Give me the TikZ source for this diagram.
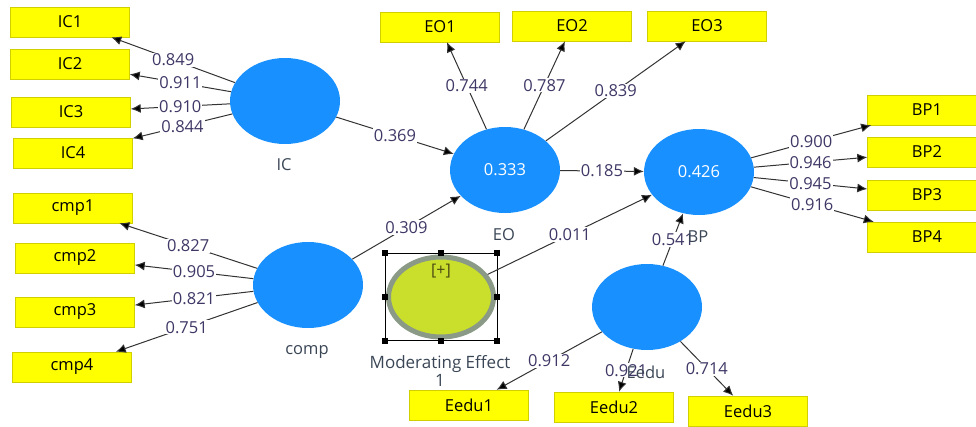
\documentclass[tikz,border=0pt]{standalone}
\usepackage{fontspec}
\setmainfont{Open Sans}
\usepackage{tikz}
\usetikzlibrary{arrows.meta,positioning,shapes.geometric}
\definecolor{latblue}{HTML}{1890FF}
\definecolor{indyellow}{HTML}{FFFF00}
\definecolor{indborder}{HTML}{D0D000}
\definecolor{modgreen}{HTML}{C9DF2C}
\definecolor{modgray}{HTML}{8A9A86}
\definecolor{coefcol}{HTML}{3F3866}
\definecolor{namecol}{HTML}{3A4656}
\definecolor{plusdark}{HTML}{4A4A10}
\tikzset{
  indic/.style={rectangle,draw=indborder,fill=indyellow,minimum width=119pt,minimum height=30pt,inner sep=0pt,font=\fontsize{16.5}{18}\selectfont},
  latent/.style={ellipse,fill=latblue,minimum width=110pt,minimum height=86pt,inner sep=0pt,text=white,font=\fontsize{16.5}{18}\selectfont},
  modnode/.style={ellipse,draw=modgray,line width=5pt,fill=modgreen,minimum width=105pt,minimum height=80pt,inner sep=0pt},
  selbox/.style={rectangle,draw=black,line width=0.8pt,minimum width=112pt,minimum height=87pt,inner sep=0pt},
  handle/.style={rectangle,fill=black,minimum size=6pt,inner sep=0pt},
  coef/.style={fill=white,inner sep=1pt,text=coefcol,font=\fontsize{16.5}{18}\selectfont},
  lvname/.style={text=namecol,align=center,font=\fontsize{16.5}{18}\selectfont},
  arrow/.style={-{Latex[length=10pt,width=9pt,fill=black]},draw=black!80,line width=1pt}
}

\begin{document}
\begin{tikzpicture}[x=1pt,y=-1pt]
  \useasboundingbox (0,0) rectangle (976,426);
  % latent variables
  \node[latent] (IC) at (285,101) {};
  \node[latent] (comp) at (308,285) {};
  \node[latent] (EO) at (505,170) {0.333};
  \node[latent] (BP) at (699,172) {0.426};
  \node[latent] (Eedu) at (647,307) {};
  \node[modnode] (Mod) at (441,297) {};
  \node[selbox] (sel) at (441,297) {};
  \foreach \a [count=\i] in {north west,north,north east,east,south east,south,south west,west}
    \node[handle] (hd\i) at (sel.\a) {};
  \node[font=\fontsize{16}{18}\selectfont,text=plusdark] (plus) at (441,271) {[+]};
  % indicators
  \node[indic] (IC1) at (70,22) {IC1};
  \node[indic] (IC2) at (70,64) {IC2};
  \node[indic] (IC3) at (71,112) {IC3};
  \node[indic] (IC4) at (73,153) {IC4};
  \node[indic] (cmp1) at (73,208) {cmp1};
  \node[indic] (cmp2) at (75,258) {cmp2};
  \node[indic] (cmp3) at (75,312) {cmp3};
  \node[indic] (cmp4) at (72,367) {cmp4};
  \node[indic] (EO1) at (440,27) {EO1};
  \node[indic] (EO2) at (572,26) {EO2};
  \node[indic] (EO3) at (707,26) {EO3};
  \node[indic] (BP1) at (927,110) {BP1};
  \node[indic] (BP2) at (927,152) {BP2};
  \node[indic] (BP3) at (927,195) {BP3};
  \node[indic] (BP4) at (927,237) {BP4};
  \node[indic] (Eedu1) at (469,405) {Eedu1};
  \node[indic] (Eedu2) at (614,407) {Eedu2};
  \node[indic] (Eedu3) at (748,411) {Eedu3};
  % loadings
  \foreach \t/\v in {IC1/0.849,IC2/0.911,IC3/0.910,IC4/0.844}
    \draw[arrow] (IC) -- node[coef] {\v} (\t);
  \foreach \t/\v in {cmp1/0.827,cmp2/0.905,cmp3/0.821,cmp4/0.751}
    \draw[arrow] (comp) -- node[coef] {\v} (\t);
  \foreach \t/\v in {EO1/0.744,EO2/0.787,EO3/0.839}
    \draw[arrow] (EO) -- node[coef] {\v} (\t);
  \foreach \t/\v in {BP1/0.900,BP2/0.946,BP3/0.945,BP4/0.916}
    \draw[arrow] (BP) -- node[coef] {\v} (\t);
  \foreach \t/\v in {Eedu1/0.912,Eedu2/0.921,Eedu3/0.714}
    \draw[arrow] (Eedu) -- node[coef] {\v} (\t);
  % paths
  \draw[arrow] (IC) -- node[coef] {0.369} (EO);
  \draw[arrow] (comp) -- node[coef] {0.309} (EO);
  \draw[arrow] (EO) -- node[coef] {0.185} (BP);
  \draw[arrow] (Mod) -- node[coef] {0.011} (BP);
  \draw[arrow] (Eedu) -- node[coef] {0.541} (BP);
  % names
  \node[lvname] (ICname) at (284,165) {IC};
  \node[lvname] (compname) at (307,352) {comp};
  \node[lvname] (EOname) at (504,235) {EO};
  \node[lvname] (BPname) at (698,237) {BP};
  \node[lvname] (Eeduname) at (646,372) {Eedu};
  \node[lvname,font=\fontsize{17}{18}\selectfont] (Modname) at (440,371) {Moderating Effect\\1};
\end{tikzpicture}
\end{document}
